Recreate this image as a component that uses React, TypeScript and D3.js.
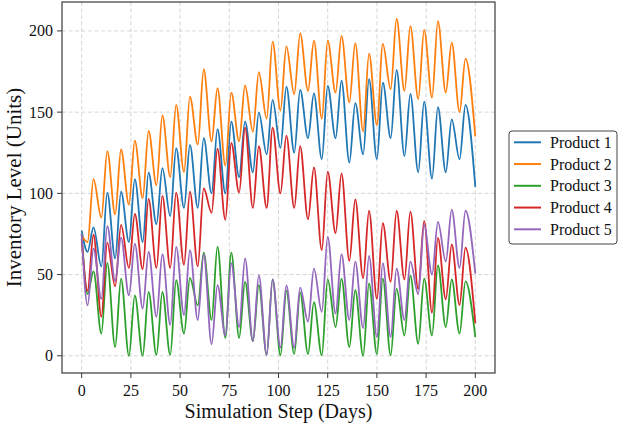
import React from "react";
import * as d3 from "d3";

const keyDays = [0, 3, 6, 10, 13, 17, 20, 24, 27, 31, 34, 38, 41, 45, 48, 52, 55, 59, 62, 66, 69, 73, 76, 80, 83, 87, 90, 94, 97, 101, 104, 108, 111, 115, 118, 122, 125, 129, 132, 136, 139, 143, 146, 150, 153, 157, 160, 164, 167, 171, 174, 178, 181, 185, 188, 192, 195, 200];

const product1 = [77, 64, 79, 55, 100.5, 60, 101, 70, 108.7, 70, 112.8, 81, 115.5, 86, 127.8, 91, 129.8, 91, 134, 100, 139.5, 100, 144.2, 110, 144.2, 113, 149.7, 124, 157.5, 128, 165.7, 125, 163.7, 134, 161.6, 121, 166.2, 134, 169.4, 119, 155.5, 124, 170.3, 121, 168.2, 134, 176, 123, 161.2, 113, 156.5, 109, 153, 113, 145.6, 121, 154.4, 104];
const product2 = [74, 70, 108.7, 85, 126, 87, 127, 93, 132.5, 97, 138.5, 105, 148, 110, 154.5, 113, 159.6, 130, 176.4, 132, 164.7, 117, 162, 132, 166.4, 138, 174.6, 146, 193.4, 151, 190.5, 161, 198.5, 163, 194, 146, 194, 162, 197, 156, 192.5, 138, 186, 142, 192, 164, 207.5, 163, 203, 158, 200.7, 159, 206, 162, 193, 150, 183, 135];
const product3 = [75, 38, 52, 13.6, 57.2, 5.3, 47.5, 0, 37.2, 0, 39.3, 0.5, 39.3, 0.5, 46.5, 13.6, 48, 31, 63.5, 22, 67.2, 11, 63.5, 11, 45.5, 9, 43.5, 0.5, 47, 0.2, 40, 1, 39, 1, 33, 0.2, 47, 17.7, 47.5, 5.3, 40.5, 0, 44.5, 1, 47.5, 0.2, 41.3, 12.5, 49.5, 7.4, 47.5, 12.5, 55.6, 17.7, 47, 13.6, 45.8, 11.5];
const product4 = [72, 40, 74.5, 24, 69.7, 42.7, 80.6, 54, 87.4, 53.3, 96.6, 54, 98.5, 54, 100.5, 56, 101, 55, 103, 88, 127.5, 83.7, 131, 100.5, 140.5, 91, 129, 91, 140.5, 100, 135.5, 91, 129, 84, 116, 65, 113.4, 75.5, 112.3, 58.4, 96.2, 47.7, 89.3, 35, 81.6, 45.5, 89.3, 47, 88.7, 41, 83, 26.5, 72.6, 34.8, 68.5, 31.2, 66.5, 20];
const product5 = [75.3, 31, 66, 35, 79.8, 46, 72.8, 37.2, 69.1, 29, 64, 24, 62.6, 19, 67, 25, 65, 22, 62.6, 7, 43.5, 12.5, 57, 17.7, 60, 9, 49.5, 0.5, 47, 5, 43.4, 5, 42, 21, 53.7, 27, 73.2, 26, 62.6, 22, 58, 17, 61.5, 11.5, 57, 11.5, 53.7, 22, 58, 38, 80.4, 50, 82.4, 58, 90, 54, 89.3, 50.6];

const seriesNames = ["Product 1", "Product 2", "Product 3", "Product 4", "Product 5"];
const seriesValues = [product1, product2, product3, product4, product5];
const seriesColors = ["#1f77b4", "#ff7f0e", "#2ca02c", "#d62728", "#9467bd"];

const xTicks = [0, 25, 50, 75, 100, 125, 150, 175, 200];
const yTicks = [0, 50, 100, 150, 200];

const FONT = "'Liberation Serif', 'Times New Roman', serif";

export default function App() {
  const W = 625;
  const H = 430;
  const left = 62;
  const right = 495;
  const top = 2;
  const bottom = 373;

  const x = d3.scaleLinear().domain([-10, 210]).range([left, right]);
  const y = d3.scaleLinear().domain([-10.6, 217.8]).range([bottom, top]);

  const line = d3
    .line<number>()
    .x((_, i) => x(keyDays[i]))
    .y((v) => y(v))
    .curve(d3.curveMonotoneX);

  const legendX = 509;
  const legendY = 131;
  const rowH = 21.75;

  return (
    <svg
      width={W}
      height={H}
      style={{ position: "absolute", left: 0, top: 0, background: "#fff" }}
      fontFamily={FONT}
    >
      <defs>
        <clipPath id="plotClip">
          <rect x={left} y={top} width={right - left} height={bottom - top} />
        </clipPath>
      </defs>
      {/* grid */}
      <g stroke="#d0d0d0" strokeWidth={0.9} strokeDasharray="4,2.5">
        {xTicks.map((t) => (
          <line key={"gx" + t} x1={x(t)} x2={x(t)} y1={top} y2={bottom} />
        ))}
        {yTicks.map((t) => (
          <line key={"gy" + t} x1={left} x2={right} y1={y(t)} y2={y(t)} />
        ))}
      </g>
      {/* lines */}
      <g clipPath="url(#plotClip)" fill="none" strokeWidth={1.8} strokeLinejoin="round">
        {seriesValues.map((vals, i) => (
          <path key={seriesNames[i]} d={line(vals) || ""} stroke={seriesColors[i]} />
        ))}
      </g>
      {/* frame */}
      <rect
        x={left}
        y={top}
        width={right - left}
        height={bottom - top}
        fill="none"
        stroke="#3a3a3a"
        strokeWidth={1.2}
      />
      {/* x ticks */}
      <g>
        {xTicks.map((t) => (
          <g key={"xt" + t}>
            <line x1={x(t)} x2={x(t)} y1={bottom} y2={bottom + 5} stroke="#3a3a3a" strokeWidth={1} />
            <text x={x(t)} y={390} textAnchor="middle" dominantBaseline="central" fontSize={16} fill="#111">
              {t}
            </text>
          </g>
        ))}
      </g>
      {/* y ticks */}
      <g>
        {yTicks.map((t) => (
          <g key={"yt" + t}>
            <line x1={left - 5} x2={left} y1={y(t)} y2={y(t)} stroke="#3a3a3a" strokeWidth={1} />
            <text x={53} y={y(t)} textAnchor="end" dominantBaseline="central" fontSize={16} fill="#111">
              {t}
            </text>
          </g>
        ))}
      </g>
      {/* axis labels */}
      <text x={(left + right) / 2} y={418} textAnchor="middle" fontSize={20} fill="#111">
        Simulation Step (Days)
      </text>
      <text
        transform={`translate(21,${(top + bottom) / 2}) rotate(-90)`}
        textAnchor="middle"
        fontSize={21}
        fill="#111"
      >
        Inventory Level (Units)
      </text>
      {/* legend */}
      <rect
        x={legendX}
        y={legendY}
        width={108}
        height={113}
        rx={3}
        fill="#fff"
        stroke="#444"
        strokeWidth={1}
      />
      {seriesNames.map((name, i) => (
        <g key={"lg" + name}>
          <line
            x1={514}
            x2={541}
            y1={legendY + 11.3 + i * rowH}
            y2={legendY + 11.3 + i * rowH}
            stroke={seriesColors[i]}
            strokeWidth={2}
          />
          <text x={550} y={legendY + 11.3 + i * rowH} dominantBaseline="central" fontSize={16} fill="#111">
            {name}
          </text>
        </g>
      ))}
    </svg>
  );
}
